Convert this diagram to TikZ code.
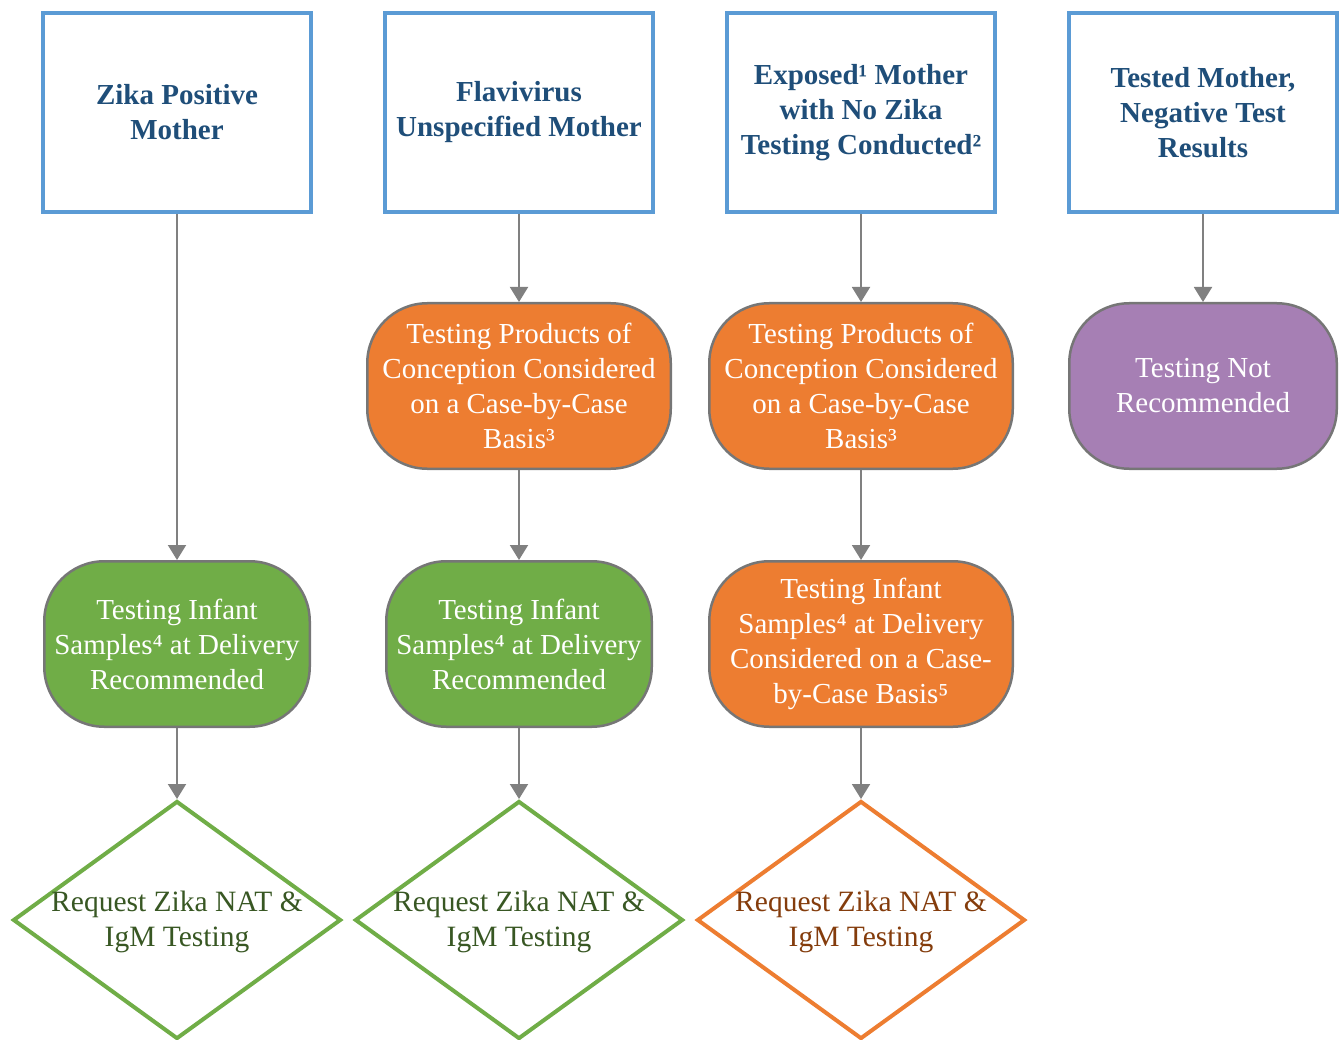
\documentclass[tikz,border=0pt]{standalone}
\usepackage{fontspec}
\setmainfont{Liberation Serif}
\usetikzlibrary{shapes.geometric,arrows.meta}

\definecolor{boxblue}{HTML}{5B9BD5}
\definecolor{titleblue}{HTML}{1F4E79}
\definecolor{fillorange}{HTML}{ED7D31}
\definecolor{fillgreen}{HTML}{70AD47}
\definecolor{fillpurple}{HTML}{A67FB4}
\definecolor{edgegray}{HTML}{767676}
\definecolor{arrowgray}{HTML}{808080}
\definecolor{leafgreen}{HTML}{385723}
\definecolor{leafbrown}{HTML}{843C0C}

\tikzset{
  x=1pt, y=1pt,
  mother/.style={draw=boxblue, line width=4pt, fill=white, rectangle,
    minimum width=268pt, minimum height=199pt, inner sep=0pt,
    align=center, text=titleblue,
    font=\fontsize{29}{35}\selectfont\bfseries},
  capsule/.style={draw=edgegray, line width=2.5pt, fill=#1, rectangle,
    rounded corners=60pt, minimum height=165.5pt, inner sep=0pt,
    align=center, text=white, font=\fontsize{29}{35}\selectfont},
  request/.style={draw=#1, line width=4pt, fill=white, diamond,
    minimum width=328pt, minimum height=238pt, inner sep=0pt},
  requesttext/.style={align=center, text=#1, inner sep=0pt,
    font=\fontsize{29.5}{35.5}\selectfont},
  conn/.style={draw=arrowgray, line width=2pt,
    -{Triangle[length=15pt,width=18pt]}, arrowgray},
}

\begin{document}
\begin{tikzpicture}
\useasboundingbox (0,0) rectangle (1340,-1040);

% maternal status boxes
\node[mother] (m1) at (177,-112.5) {Zika Positive\\Mother};
\node[mother] (m2) at (519,-112.5) {Flavivirus\\Unspecified Mother};
\node[mother] (m3) at (861,-112.5) {Exposed¹ Mother\\with No Zika\\Testing Conducted²};
\node[mother] (m4) at (1203,-112.5) {Tested Mother,\\Negative Test\\Results};

% products of conception
\node[capsule=fillorange, minimum width=303.5pt] (p2) at (519,-386)
  {Testing Products of\\Conception Considered\\on a Case-by-Case\\Basis³};
\node[capsule=fillorange, minimum width=303.5pt] (p3) at (861,-386)
  {Testing Products of\\Conception Considered\\on a Case-by-Case\\Basis³};
\node[capsule=fillpurple, minimum width=267.5pt] (p4) at (1203,-386)
  {Testing Not\\Recommended};

% infant samples
\node[capsule=fillgreen, minimum width=265.5pt] (i1) at (177,-644)
  {Testing Infant\\Samples⁴ at Delivery\\Recommended};
\node[capsule=fillgreen, minimum width=265.5pt] (i2) at (519,-644)
  {Testing Infant\\Samples⁴ at Delivery\\Recommended};
\node[capsule=fillorange, minimum width=303.5pt] (i3) at (861,-644)
  {Testing Infant\\Samples⁴ at Delivery\\Considered on a Case-\\by-Case Basis⁵};

% laboratory requests
\node[request=fillgreen] (r1) at (177,-920) {};
\node[request=fillgreen] (r2) at (519,-920) {};
\node[request=fillorange] (r3) at (861,-920) {};
\node[requesttext=leafgreen] (r1t) at ([yshift=-2pt]r1.center) {Request Zika NAT \&\\IgM Testing};
\node[requesttext=leafgreen] (r2t) at ([yshift=-2pt]r2.center) {Request Zika NAT \&\\IgM Testing};
\node[requesttext=leafbrown] (r3t) at ([yshift=-2pt]r3.center) {Request Zika NAT \&\\IgM Testing};

% connectors
\draw[conn] (m1.south) -- (i1.north);
\draw[conn] (m2.south) -- (p2.north);
\draw[conn] (m3.south) -- (p3.north);
\draw[conn] (m4.south) -- (p4.north);
\draw[conn] (p2.south) -- (i2.north);
\draw[conn] (p3.south) -- (i3.north);
\draw[conn] (i1.south) -- (r1.north);
\draw[conn] (i2.south) -- (r2.north);
\draw[conn] (i3.south) -- (r3.north);
\end{tikzpicture}
\end{document}
